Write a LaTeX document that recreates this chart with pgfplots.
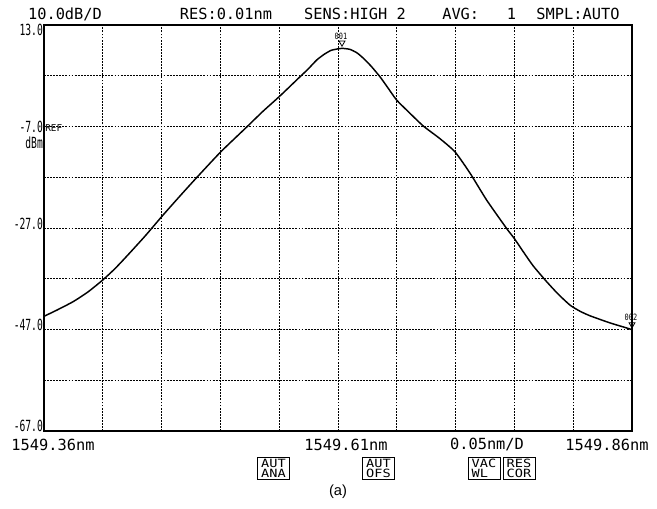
\documentclass[border=0pt]{standalone}
\usepackage{pgfplots}
\pgfplotsset{compat=1.18}
\usepackage{fontspec}
\setmainfont{Liberation Sans}
\newfontfamily\osa{DejaVu Sans Mono}

% spectrum trace, wavelength (nm) vs power (dBm)
\pgfplotstableread{
x y
1549.3600 -44.4
1549.3708 -43.2
1549.3849 -41.5
1549.3974 -39.6
1549.4102 -37.2
1549.4204 -35.0
1549.4306 -32.5
1549.4459 -28.6
1549.4603 -24.7
1549.4756 -20.7
1549.4901 -17.0
1549.5103 -12.0
1549.5324 -7.1
1549.5462 -4.0
1549.5601 -1.1
1549.5777 2.8
1549.5845 4.3
1549.5919 6.1
1549.5981 7.2
1549.6041 8.0
1549.6100 8.3
1549.6134 8.4
1549.6202 8.2
1549.6262 7.5
1549.6313 6.5
1549.6381 4.9
1549.6457 2.8
1549.6525 0.6
1549.6599 -1.8
1549.6712 -4.4
1549.6825 -6.9
1549.6967 -9.4
1549.7095 -12.0
1549.7223 -16.2
1549.7364 -21.5
1549.7534 -27.1
1549.7597 -29.0
1549.7682 -31.9
1549.7761 -34.5
1549.7875 -37.6
1549.7971 -40.0
1549.8073 -42.2
1549.8158 -43.4
1549.8243 -44.3
1549.8413 -45.7
1549.8583 -46.9
1549.8600 -47.1
}\trace

\begin{document}
\begin{tikzpicture}
\begin{axis}[
    name=ax, at={(0,0)}, anchor=south west,
    scale only axis, width=441pt, height=304.5pt,
    xmin=1549.36, xmax=1549.86, ymin=-67, ymax=13,
    xtick={1549.36,1549.41,1549.46,1549.51,1549.56,1549.61,1549.66,1549.71,1549.76,1549.81,1549.86},
    ytick={-67,-57,-47,-37,-27,-17,-7,3,13},
    xticklabels={}, yticklabels={},
    major tick length=0pt,
    grid=major,
    major grid style={black, line width=0.7pt, dash pattern=on 1.4pt off 0.9pt},
    axis line style={black, line width=0.8pt},
    clip=false,
  ]
  \addplot[black, line width=1.1pt, smooth, tension=0.35] table {\trace};
  \addplot[only marks, mark=triangle, mark size=2.6pt,
           mark options={yshift=4.2pt, rotate=180, black, line width=0.6pt}]
    coordinates {(1549.6134,8.4) (1549.8600,-47.1)};
\end{axis}

\begin{scope}[shift={(ax.north west)}, xshift=-33pt, yshift=18.75pt, x=0.75pt, y=-0.75pt]
  \draw[line width=1.5pt] (44,25) -- (44,431);
  % header and x labels
  \begin{scope}[every node/.style={font=\osa\fontsize{11.5}{12}\selectfont, inner sep=0pt}]
    \node at (65,14) {10.0dB/D};
    \node at (226,14) {RES:0.01nm};
    \node at (355,14) {SENS:HIGH 2};
    \node[anchor=west] at (442,14) {AVG:\ \ \ 1};
    \node at (578,14) {SMPL:AUTO};
    \node at (53,445) {1549.36nm};
    \node at (346,445) {1549.61nm};
    \node at (487,445) {0.05nm/D};
    \node at (607,445) {1549.86nm};
  \end{scope}
  % y labels
  \begin{scope}[every node/.style={font=\osa\fontsize{11.5}{12}\selectfont, inner sep=0pt, xscale=0.63, anchor=east}]
    \node at (43,29.5) {13.0};
    \node at (43,126.5) {-7.0};
    \node at (43,143) {dBm};
    \node at (43,224) {-27.0};
    \node at (43,325) {-47.0};
    \node at (43,426) {-67.0};
  \end{scope}
  \node[font=\osa\fontsize{7}{7}\selectfont, inner sep=0pt, anchor=west] at (45,128.5) {REF};
  % markers
  \node[font=\osa\fontsize{6.5}{6.5}\selectfont, inner sep=0pt, xscale=0.8] at (341,36) {001};
  \node[font=\osa\fontsize{6.5}{6.5}\selectfont, inner sep=0pt, xscale=0.8] at (631,317) {002};
  % soft keys
  \begin{scope}[every node/.style={draw, line width=0.6pt, font=\osa\fontsize{8.5}{7.5}\selectfont,
        align=center, inner sep=0.8pt, minimum width=24pt, minimum height=17pt}]
    \node at (273.5,468.5) {\scalebox{1.2}[1]{AUT}\\\scalebox{1.2}[1]{ANA}};
    \node at (378.5,468.5) {\scalebox{1.2}[1]{AUT}\\\scalebox{1.2}[1]{OFS}};
    \node at (484,468.5) {\scalebox{1.2}[1]{VAC}\\\scalebox{1.2}[1]{WL\ }};
    \node at (519,468.5) {\scalebox{1.2}[1]{RES}\\\scalebox{1.2}[1]{COR}};
  \end{scope}
  \node[font=\fontsize{11}{12}\selectfont, inner sep=0pt] at (338,492) {(a)};
  \pgfresetboundingbox
  \path (0,0) rectangle (657,508);
\end{scope}
\end{tikzpicture}
\end{document}
